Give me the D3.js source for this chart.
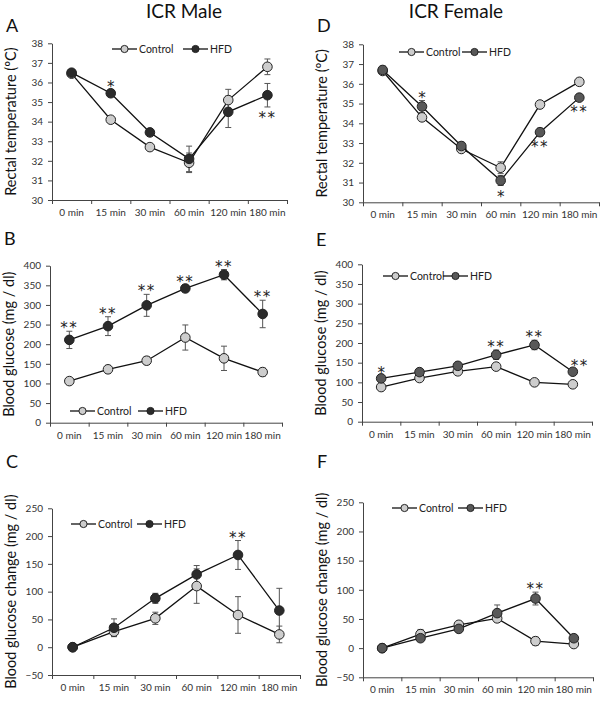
<!DOCTYPE html>
<html><head><meta charset="utf-8">
<script src="https://cdn.jsdelivr.net/npm/d3@7"></script>
<style>
body{margin:0;background:#fff;}
svg{display:block;font-family:Lato,"Open Sans",sans-serif;}
</style></head>
<body><svg id="c" width="600" height="702"></svg>
<script>
// ---- data ----
const categories = ["0 min","15 min","30 min","60 min","120 min","180 min"];
const seriesNames = ["Control","HFD"];

// A: ICR Male rectal temperature
const tempMaleControl = [36.45, 34.1, 32.7, 31.9, 35.1, 36.8];
const tempMaleControlErr = [0.1, 0.15, 0.15, 0.5, 0.55, 0.4];
const tempMaleHFD = [36.5, 35.45, 33.45, 32.1, 34.5, 35.35];
const tempMaleHFDErr = [0.1, 0.15, 0.15, 0.65, 0.8, 0.6];
const tempMaleStars = ["", "*", "", "", "", "**"];
const tempMaleStarSide = ["", "above", "", "", "", "below"];

// D: ICR Female rectal temperature
const tempFemaleControl = [36.65, 34.3, 32.7, 31.75, 34.95, 36.1];
const tempFemaleControlErr = [0.15, 0.15, 0.15, 0.3, 0.2, 0.15];
const tempFemaleHFD = [36.7, 34.85, 32.85, 31.1, 33.55, 35.3];
const tempFemaleHFDErr = [0.2, 0.3, 0.2, 0.25, 0.2, 0.15];
const tempFemaleStars = ["", "*", "", "*", "**", "**"];
const tempFemaleStarSide = ["", "above", "", "below", "below", "below"];

// B: ICR Male blood glucose
const gluMaleControl = [106, 136, 158, 217, 164, 129];
const gluMaleControlErr = [6, 10, 10, 32, 31, 10];
const gluMaleHFD = [211, 246, 299, 342, 377, 277];
const gluMaleHFDErr = [22, 24, 28, 9, 13, 35];
const gluMaleStars = ["**", "**", "**", "**", "**", "**"];
const gluMaleStarSide = ["above", "above", "above", "above", "above", "above"];

// E: ICR Female blood glucose
const gluFemaleControl = [88, 111, 128, 140, 100, 95];
const gluFemaleControlErr = [5, 5, 6, 8, 5, 5];
const gluFemaleHFD = [110, 126, 142, 170, 195, 127];
const gluFemaleHFDErr = [6, 6, 6, 12, 12, 8];
const gluFemaleStars = ["*", "", "", "**", "**", "**"];
const gluFemaleStarSide = ["above", "", "", "above", "above", "above"];

// C: ICR Male blood glucose change
const chgMaleControl = [0, 28, 52, 110, 58, 23];
const chgMaleControlErr = [0, 8, 11, 31, 33, 15];
const chgMaleHFD = [0, 35, 88, 131, 166, 66];
const chgMaleHFDErr = [0, 16, 9, 16, 26, 40];
const chgMaleStars = ["", "", "", "", "**", ""];
const chgMaleStarSide = ["", "", "", "", "above", ""];

// F: ICR Female blood glucose change
const chgFemaleControl = [0, 24, 40, 51, 12, 7];
const chgFemaleControlErr = [0, 8, 5, 6, 7, 4];
const chgFemaleHFD = [0, 17, 33, 60, 85, 17];
const chgFemaleHFDErr = [0, 5, 5, 14, 11, 5];
const chgFemaleStars = ["", "", "", "", "**", ""];
const chgFemaleStarSide = ["", "", "", "", "above", ""];

const tempTicks = [30, 31, 32, 33, 34, 35, 36, 37, 38];
const gluTicks = [0, 50, 100, 150, 200, 250, 300, 350, 400];
const chgTicks = [-50, 0, 50, 100, 150, 200, 250];

const titles = ["ICR Male", "ICR Female"];
const yLabels = ["Rectal temperature (ºC)", "Blood glucose (mg / dl)", "Blood glucose change (mg / dl)"];

// ---- drawing ----
const svg = d3.select("#c");

const panels = [
  {letter:"A", x0:52, x1:287, yT:43.3, yB:200, dom:[30,38], ticks:tempTicks, ylab:yLabels[0],
   c:tempMaleControl, ce:tempMaleControlErr, h:tempMaleHFD, he:tempMaleHFDErr, stars:tempMaleStars, side:tempMaleStarSide,
   hfdFill:"#2b2b2b", leg:{x:112, y:49, x2:183}, letterY:32},
  {letter:"D", x0:363, x1:599, yT:44.3, yB:202.3, dom:[30,38], ticks:tempTicks, ylab:yLabels[0],
   c:tempFemaleControl, ce:tempFemaleControlErr, h:tempFemaleHFD, he:tempFemaleHFDErr, stars:tempFemaleStars, side:tempFemaleStarSide,
   hfdFill:"#585858", leg:{x:399, y:52, x2:462}, letterY:32},
  {letter:"B", x0:50, x1:282, yT:265.7, yB:422.7, dom:[0,400], ticks:gluTicks, ylab:yLabels[1],
   c:gluMaleControl, ce:gluMaleControlErr, h:gluMaleHFD, he:gluMaleHFDErr, stars:gluMaleStars, side:gluMaleStarSide,
   hfdFill:"#2b2b2b", leg:{x:70, y:411, x2:138}, letterY:245},
  {letter:"E", x0:362, x1:592, yT:264.3, yB:421.7, dom:[0,400], ticks:gluTicks, ylab:yLabels[1],
   c:gluFemaleControl, ce:gluFemaleControlErr, h:gluFemaleHFD, he:gluFemaleHFDErr, stars:gluFemaleStars, side:gluFemaleStarSide,
   hfdFill:"#585858", leg:{x:383, y:276, x2:443}, letterY:246},
  {letter:"C", x0:52, x1:300, yT:508.3, yB:675, dom:[-50,250], ticks:chgTicks, ylab:yLabels[2],
   c:chgMaleControl, ce:chgMaleControlErr, h:chgMaleHFD, he:chgMaleHFDErr, stars:chgMaleStars, side:chgMaleStarSide,
   hfdFill:"#2b2b2b", leg:{x:71, y:524, x2:137}, letterY:468},
  {letter:"F", x0:363, x1:593, yT:502.3, yB:677.3, dom:[-50,250], ticks:chgTicks, ylab:yLabels[2],
   c:chgFemaleControl, ce:chgFemaleControlErr, h:chgFemaleHFD, he:chgFemaleHFDErr, stars:chgFemaleStars, side:chgFemaleStarSide,
   hfdFill:"#585858", leg:{x:392, y:508, x2:458}, letterY:468}
];

const ctrlFill = "#cdcdcd";
const axisColor = "#444";
const R = 4.8;

// titles
svg.append("text").attr("x",184).attr("y",18).attr("text-anchor","middle")
  .attr("font-size",19).attr("fill","#111").text(titles[0]);
svg.append("text").attr("x",456).attr("y",18).attr("text-anchor","middle")
  .attr("font-size",19).attr("fill","#111").text(titles[1]);

panels.forEach(p => {
  const g = svg.append("g");
  const xBand = d3.scaleBand().domain(categories).range([p.x0, p.x1]).padding(0);
  const xEdge = d3.scaleLinear().domain([0, categories.length]).range([p.x0, p.x1]);
  const y = d3.scaleLinear().domain(p.dom).range([p.yB, p.yT]);
  const cx = d => xBand(d) + xBand.bandwidth()/2;

  // panel letter
  g.append("text").attr("x", p.x0 - 46).attr("y", p.letterY).attr("font-size",18).attr("fill","#111").text(p.letter);

  // y axis
  const ya = g.append("g").attr("transform",`translate(${p.x0},0)`)
    .call(d3.axisLeft(y).tickValues(p.ticks).tickSize(4).tickSizeOuter(0).tickPadding(5));
  // x axis: tick marks at band edges
  const xa = g.append("g").attr("transform",`translate(0,${p.yB})`)
    .call(d3.axisBottom(xEdge).tickValues(d3.range(categories.length+1)).tickFormat("").tickSize(4).tickSizeOuter(0));
  const xl = g.append("g").attr("transform",`translate(0,${p.yB})`)
    .call(d3.axisBottom(xBand).tickSize(0).tickPadding(9));
  xl.select(".domain").remove();
  [ya, xa, xl].forEach(a => {
    a.selectAll("path,line").attr("stroke", axisColor).attr("stroke-width",1);
    a.selectAll("text").attr("font-family","Lato").attr("font-size",10).attr("fill","#333");
  });

  // y label
  g.append("text").attr("transform",`translate(${p.x0 - 36},${(p.yT+p.yB)/2}) rotate(-90)`)
    .attr("text-anchor","middle").attr("font-size",14.5).attr("fill","#111").text(p.ylab);

  const series = [
    {vals:p.c, err:p.ce, fill:ctrlFill},
    {vals:p.h, err:p.he, fill:p.hfdFill}
  ];
  const line = d3.line().x((v,i) => cx(categories[i])).y(v => y(v));

  series.forEach(s => {
    // error bars
    const eb = g.append("g").attr("stroke","#555").attr("stroke-width",1);
    s.vals.forEach((v,i) => {
      if (!s.err[i]) return;
      const x = cx(categories[i]);
      eb.append("line").attr("x1",x).attr("x2",x).attr("y1",y(v - s.err[i])).attr("y2",y(v + s.err[i]));
      [v - s.err[i], v + s.err[i]].forEach(e =>
        eb.append("line").attr("x1",x-3).attr("x2",x+3).attr("y1",y(e)).attr("y2",y(e)));
    });
  });
  series.forEach(s => {
    g.append("path").datum(s.vals).attr("d", line).attr("fill","none").attr("stroke","#111").attr("stroke-width",1.3);
    g.selectAll(null).data(s.vals).enter().append("circle")
      .attr("cx",(v,i) => cx(categories[i])).attr("cy", v => y(v)).attr("r", R)
      .attr("fill", s.fill).attr("stroke","#222").attr("stroke-width",1);
  });

  // significance stars
  p.stars.forEach((st,i) => {
    if (!st) return;
    const v = p.h[i], e = p.he[i];
    const yy = p.side[i] === "above" ? y(v + e) + 2 : y(v - e) + 16;
    let x = cx(categories[i]);
    if (p.letter === "E" && i === 5) x += 7;
    g.append("text").attr("x", x).attr("y", yy).attr("text-anchor","middle")
      .attr("font-family","DejaVu Sans").attr("font-size",15)
      .attr("letter-spacing", st.length > 1 ? 1.5 : 0).attr("fill","#222").text(st);
  });

  // legend
  const L = p.leg;
  [[L.x, ctrlFill, seriesNames[0]], [L.x2, p.hfdFill, seriesNames[1]]].forEach(([lx, f, name]) => {
    g.append("line").attr("x1",lx).attr("x2",lx+25).attr("y1",L.y).attr("y2",L.y).attr("stroke","#111").attr("stroke-width",1.3);
    g.append("circle").attr("cx",lx+12.5).attr("cy",L.y).attr("r",3.6).attr("fill",f).attr("stroke","#222");
    g.append("text").attr("x",lx+27).attr("y",L.y+3.7).attr("font-size",10.5).attr("fill","#222").text(name);
  });
});
</script>
</body></html>
